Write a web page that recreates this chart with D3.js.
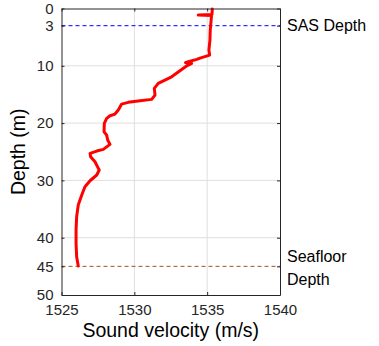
<!DOCTYPE html>
<html>
<head>
<meta charset="utf-8">
<script src="https://cdn.jsdelivr.net/npm/d3@7"></script>
<style>
    body { margin: 0; background: #fff; }
    text { font-family: "Liberation Sans", Arial, sans-serif; }
</style>
</head>
<body>
<div id="chart"></div>
<script>

// sound velocity profile (m/s) vs depth (m)
let velocity = [1535.35, 1535.33, 1534.39, 1535.30, 1535.21, 1535.19, 1535.12, 1535.17, 1534.51, 1534.28,
    1533.70, 1533.51, 1533.94, 1533.63, 1533.13, 1532.56, 1532.10, 1531.64, 1531.37, 1531.42,
    1531.19, 1530.39, 1529.58, 1529.13, 1528.90, 1528.67, 1528.33, 1528.10, 1527.94, 1527.92,
    1528.10, 1528.17, 1528.33, 1527.87, 1527.42, 1526.96, 1527.00, 1527.30, 1527.53, 1527.59,
    1527.42, 1526.96, 1526.61, 1526.39, 1526.15, 1526.04, 1526.00, 1526.00, 1526.04, 1526.15];
let depth = [0.1, 1.06, 1.15, 1.24, 3.77, 5.51, 7.26, 8.13, 8.65, 8.88,
    9.30, 9.44, 9.58, 9.96, 10.87, 11.92, 12.49, 13.07, 13.94, 15.11,
    15.86, 16.10, 16.38, 16.68, 17.72, 18.42, 18.72, 19.17, 20.05, 21.51,
    22.09, 22.96, 23.71, 24.58, 24.88, 25.28, 25.87, 26.74, 27.90, 28.19,
    29.06, 30.06, 31.11, 32.55, 34.30, 36.34, 38.66, 40.98, 43.32, 44.94];

let xTicks = [1525, 1530, 1535, 1540];
let yTicks = [0, 3, 10, 20, 30, 40, 45, 50];
let gridY = [10, 20, 30, 40];
let gridX = [1530, 1535];

let refLines = [
    {name: ["SAS Depth"], depth: 3, color: "#0000ff"},
    {name: ["Seafloor", "Depth"], depth: 45, color: "#a5522d"}
];

let margin = {top: 8.5, right: 99, bottom: 51, left: 61.5};
let width = 379 - margin.left - margin.right;
let height = 346 - margin.top - margin.bottom;

let svg = d3.select("#chart").append("svg")
    .attr("width", 379)
    .attr("height", 346)
    .append("g")
    .attr("transform", "translate(" + margin.left + "," + margin.top + ")");

let x = d3.scaleLinear().domain([1525, 1540]).range([0, width]);
let y = d3.scaleLinear().domain([0, 50]).range([0, height]);

// grid
svg.selectAll(".gy").data(gridY).enter().append("line")
    .attr("x1", 0).attr("x2", width)
    .attr("y1", d => y(d)).attr("y2", d => y(d))
    .attr("stroke", "#dfdfdf").attr("stroke-width", 1);
svg.selectAll(".gx").data(gridX).enter().append("line")
    .attr("y1", 0).attr("y2", height)
    .attr("x1", d => x(d)).attr("x2", d => x(d))
    .attr("stroke", "#dfdfdf").attr("stroke-width", 1);

// reference depth lines
svg.selectAll(".ref").data(refLines).enter().append("line")
    .attr("x1", 0).attr("x2", width)
    .attr("y1", d => y(d.depth)).attr("y2", d => y(d.depth))
    .attr("stroke", d => d.color)
    .attr("stroke-width", 1)
    .attr("stroke-dasharray", "4,3");

// profile line
let line = d3.line()
    .x((d, i) => x(velocity[i]))
    .y(d => y(d))
    .curve(d3.curveLinear);

svg.append("path")
    .datum(depth)
    .attr("d", line)
    .attr("fill", "none")
    .attr("stroke", "#ff0000")
    .attr("stroke-width", 3)
    .attr("stroke-linejoin", "round")
    .attr("stroke-linecap", "round");

// axes (matlab style box, ticks inward)
let tickLen = 3;
let xAxisBottom = d3.axisBottom(x).tickValues(xTicks).tickFormat(d3.format("d"))
    .tickSizeInner(-tickLen).tickSizeOuter(0).tickPadding(9);
let xAxisTop = d3.axisTop(x).tickValues(xTicks).tickSizeInner(-tickLen).tickSizeOuter(0).tickFormat("");
let yAxisLeft = d3.axisLeft(y).tickValues(yTicks).tickSizeInner(-tickLen).tickSizeOuter(0).tickPadding(8);
let yAxisRight = d3.axisRight(y).tickValues(yTicks).tickSizeInner(-tickLen).tickSizeOuter(0).tickFormat("");

let gxb = svg.append("g").attr("transform", "translate(0," + height + ")").call(xAxisBottom);
let gxt = svg.append("g").call(xAxisTop);
let gyl = svg.append("g").call(yAxisLeft);
let gyr = svg.append("g").attr("transform", "translate(" + width + ",0)").call(yAxisRight);

[gxb, gxt, gyl, gyr].forEach(function(g) {
    g.select(".domain").attr("stroke", "#262626").attr("stroke-width", 1);
    g.selectAll(".tick line").attr("stroke", "#262626");
    g.selectAll(".tick text").attr("fill", "#262626").style("font-size", "15px")
        .style("font-family", "'Liberation Sans', Arial, sans-serif");
});

// side labels for reference lines
refLines.forEach(function(r) {
    let t = svg.append("text")
        .attr("x", width + 7)
        .attr("y", y(r.depth))
        .attr("fill", "#000")
        .style("font-size", "16px");
    if (r.name.length === 1) {
        t.attr("dy", "0.35em").text(r.name[0]);
    } else {
        t.selectAll("tspan").data(r.name).enter().append("tspan")
            .attr("x", width + 7)
            .attr("dy", (d, i) => i === 0 ? "-0.25em" : "1.4em")
            .text(d => d);
    }
});

// axis titles
svg.append("text")
    .attr("x", width / 2)
    .attr("y", height + 42)
    .attr("text-anchor", "middle")
    .style("font-size", "19.5px")
    .attr("fill", "#000")
    .text("Sound velocity (m/s)");

svg.append("text")
    .attr("transform", "translate(" + (-37) + "," + (height / 2) + ") rotate(-90)")
    .attr("text-anchor", "middle")
    .style("font-size", "19.5px")
    .attr("fill", "#000")
    .text("Depth (m)");

</script>
</body>
</html>
